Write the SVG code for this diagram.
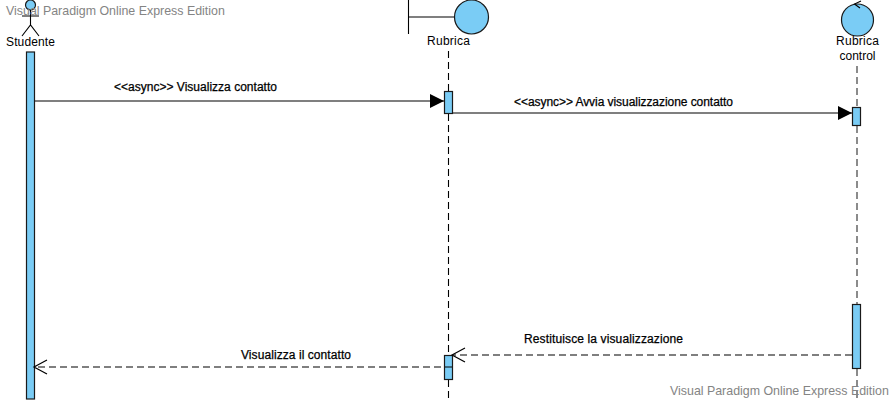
<svg xmlns="http://www.w3.org/2000/svg" width="895" height="402" viewBox="0 0 895 402">
<style>
text{font-family:"Liberation Sans",Arial,sans-serif;font-size:12px;fill:#000}
.c{text-anchor:middle}
.m{stroke:#000;stroke-width:.25}
.wm{font-size:12.4px;fill:#848484}
.s{fill:#7accf5;stroke:#1a1a1a;stroke-width:1.2}
.l{fill:none;stroke:#000;stroke-width:1.1}
.life{fill:none;stroke:#000;stroke-width:1.1;stroke-dasharray:7 4}
.dash{stroke-dasharray:7 4}
.open{fill:none;stroke:#000;stroke-width:1.2}
</style>
<defs>
<marker id="fill" markerUnits="userSpaceOnUse" markerWidth="15" markerHeight="14" refX="14" refY="7" orient="auto"><path d="M0 0L14 7L0 14Z" fill="#000"/></marker>
</defs>
<rect width="895" height="402" fill="#fff"/>
<g id="lifelines">
<path class="life" d="M448.500 51V92M448.500 114V355M448.500 380V400"/>
<path class="life" d="M857 66V107M857 126V304M857 369V399" style="stroke:#666;stroke-width:1.5"/>
</g>
<g id="node-studente">
<circle class="s" cx="30.500" cy="5" r="5"/>
<path class="l" d="M22 16H39M30.500 10V25M22 36L30.500 25L39 36"/>
<text class="c" x="30.500" y="46" textLength="49">Studente</text>
<rect class="s" x="26.500" y="52" width="8" height="347"/>
</g>
<g id="node-rubrica">
<path class="l" d="M408.500 0V34M408.500 17H454"/>
<circle class="s" cx="471.500" cy="17" r="17"/>
<text class="c" x="448.500" y="45" textLength="43">Rubrica</text>
<rect class="s" x="444.500" y="91.500" width="8" height="22"/>
<rect class="s" x="444.500" y="355.500" width="8" height="24"/>
</g>
<g id="node-rubrica-control">
<circle class="s" cx="857.500" cy="20" r="16"/>
<path class="l" d="M861 1L854.500 4L860 8"/>
<text class="c" x="857.500" y="45" textLength="43">Rubrica</text>
<text class="c" x="857.500" y="60">control</text>
<rect class="s" x="852.500" y="107.500" width="8" height="18"/>
<rect class="s" x="852.500" y="304.500" width="8" height="64"/>
</g>
<g id="connectors">
<path class="l" d="M35 101H444" marker-end="url(#fill)"/>
<path class="l" d="M453 113H852" marker-end="url(#fill)"/>
<path class="l dash" d="M852 355H453"/>
<path class="open" d="M465 348L452 355L465 362"/>
<path class="l dash" d="M452 367H35"/>
<path class="open" d="M47 360L34 367L47 374"/>
</g>
<g id="labels">
<text class="m" x="114" y="91" textLength="163">&lt;&lt;async&gt;&gt; Visualizza contatto</text>
<text class="m" x="514" y="106" textLength="219">&lt;&lt;async&gt;&gt; Avvia visualizzazione contatto</text>
<text class="m" x="524" y="343" textLength="159">Restituisce la visualizzazione</text>
<text class="m" x="241" y="359" textLength="110">Visualizza il contatto</text>
</g>
<g id="watermarks">
<text class="wm" x="6" y="15">Visual Paradigm Online Express Edition</text>
<text class="wm" x="670" y="395">Visual Paradigm Online Express Edition</text>
</g>
</svg>
